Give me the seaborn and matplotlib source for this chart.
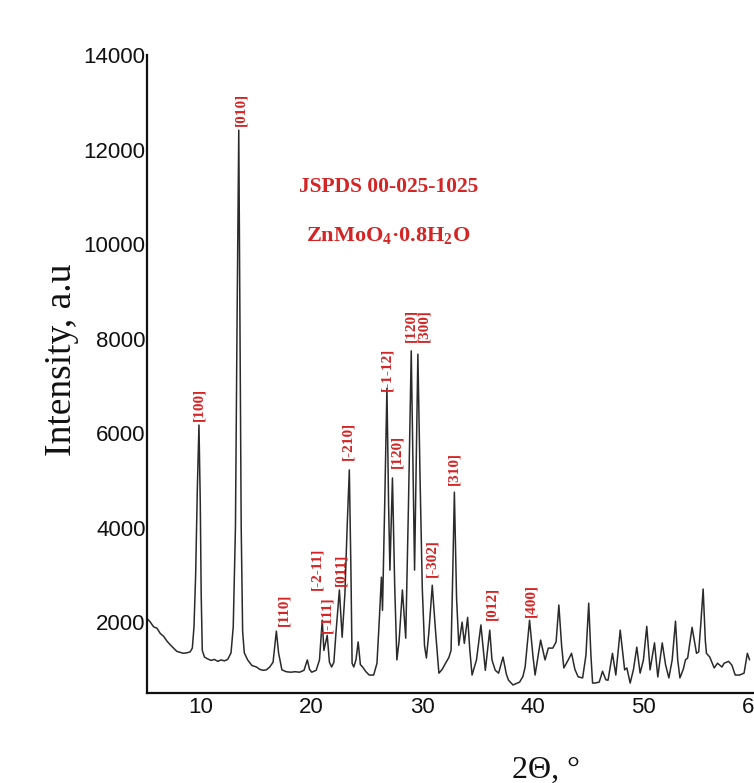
import matplotlib
matplotlib.use("Agg")
import matplotlib.pyplot as plt
import seaborn as sns
import pandas as pd

two_theta = [5.1, 5.4, 5.7, 6.0, 6.3, 6.6, 6.9, 7.2, 7.5, 7.8, 8.1, 8.4, 8.7, 9.0, 9.2, 9.35, 9.5, 9.65, 9.8, 9.92,
             10.0, 10.1, 10.3, 10.6, 10.9, 11.2, 11.5, 11.8, 12.1, 12.4, 12.7, 12.9, 13.1, 13.25, 13.4, 13.52, 13.62, 13.75, 13.9,
             14.2, 14.6, 15.0, 15.3, 15.6, 15.9, 16.2, 16.5, 16.8, 17.0, 17.3, 17.7, 18.1, 18.5, 18.9, 19.3, 19.6, 19.8,
             20.0, 20.4, 20.7, 20.95, 21.1, 21.4, 21.6, 21.8, 22.0, 22.2, 22.5, 22.75, 23.0, 23.2, 23.4, 23.55, 23.65, 23.8,
             24.0, 24.2, 24.4, 24.6, 24.9, 25.2, 25.6, 25.9, 26.1, 26.3, 26.4, 26.6, 26.8, 26.95, 27.07, 27.3, 27.5, 27.7,
             27.9, 28.2, 28.5, 28.75, 29.0, 29.3, 29.6, 29.8, 30.0, 30.2, 30.37, 30.6, 30.9, 31.2, 31.5, 31.8, 32.1, 32.4,
             32.6, 32.75, 32.9, 33.1, 33.3, 33.6, 33.8, 34.1, 34.3, 34.5, 34.9, 35.3, 35.7, 36.1, 36.3, 36.6, 36.9, 37.3,
             37.6, 37.8, 38.2, 38.5, 38.8, 39.1, 39.3, 39.7, 40.0, 40.2, 40.7, 41.1, 41.4, 41.8, 42.1, 42.35, 42.6, 42.8,
             43.2, 43.5, 43.8, 44.1, 44.5, 44.8, 45.05, 45.25, 45.4, 45.6, 46.0, 46.3, 46.6, 46.8, 47.2, 47.5, 47.9, 48.3,
             48.5, 48.8, 49.1, 49.4, 49.7, 50.0, 50.3, 50.6, 51.0, 51.3, 51.7, 52.0, 52.3, 52.6, 52.9, 53.1, 53.3, 53.6,
             53.8, 54.0, 54.4, 54.8, 55.0, 55.2, 55.4, 55.6, 55.7, 56.0, 56.4, 56.7, 57.1, 57.3, 57.7, 58.0, 58.3, 58.7,
             59.1, 59.4, 59.6]
intensity = [2080, 2000, 1900, 1870, 1760, 1700, 1600, 1520, 1450, 1380, 1360, 1340, 1350, 1370, 1450, 1900, 3000, 4800, 6170, 4500,
             2600, 1400, 1260, 1220, 1190, 1210, 1170, 1200, 1180, 1210, 1350, 1900, 4000, 8500, 12410, 8000, 4000, 1800, 1350,
             1200, 1080, 1050, 1000, 980, 990, 1050, 1150, 1810, 1350, 990, 950, 940, 950, 940, 980, 1200, 1000,
             940, 980, 1200, 2040, 1400, 1720, 1150, 1050, 1150, 1800, 2680, 1680, 2600, 4000, 5220, 3000, 1130, 1050,
             1200, 1580, 1100, 1050, 950, 880, 880, 1130, 2000, 2950, 2250, 4500, 6950, 4500, 3100, 5050, 2800, 1200,
             1600, 2680, 1660, 4500, 7740, 3100, 7670, 5000, 2700, 1500, 1240, 1800, 2780, 1800, 920, 1000, 1130, 1250,
             1400, 3000, 4750, 2500, 1510, 2000, 1550, 2100, 1400, 880, 1200, 1940, 980, 1830, 1200, 980, 920, 1260,
             900, 770, 670, 700, 730, 850, 1050, 2040, 1300, 880, 1620, 1200, 1450, 1450, 1580, 2360, 1500, 1030,
             1200, 1340, 1000, 840, 820, 1300, 2400, 1300, 710, 710, 730, 960, 780, 770, 1340, 880, 1830, 990,
             1030, 710, 1000, 1470, 920, 1200, 1910, 990, 1560, 840, 1560, 1100, 820, 1200, 2020, 1200, 820, 1000,
             1200, 1240, 1890, 1340, 1370, 2000, 2700, 1600, 1340, 1260, 1030, 1130, 1050, 1130, 1170, 1090, 880, 880,
             920, 1340, 1200]

peak_labels = ["[100]", "[010]", "[110]", "[-2-11]", "[-111]", "[011]", "[-210]", "[-1-12]", "[120]",
               "[120]", "[300]", "[-302]", "[310]", "[012]", "[400]"]
label_theta = [9.8, 13.58, 17.45, 20.5, 21.4, 22.6, 23.3, 26.8, 27.7, 28.95, 30.15, 30.9, 32.9, 36.3, 39.8]
label_base = [6250, 12500, 1915, 2680, 1770, 2760, 5430, 6900, 5270, 7925, 7925, 2950, 4900, 2040, 2100]

x_ticks = [10, 20, 30, 40, 50, 60]
y_ticks = [2000, 4000, 6000, 8000, 10000, 12000, 14000]

sns.set_theme(style="ticks")
plt.rcParams["font.family"] = ["Liberation Sans", "DejaVu Sans"]
plt.rcParams["mathtext.fontset"] = "custom"
plt.rcParams["mathtext.rm"] = "Liberation Serif:bold"
plt.rcParams["mathtext.default"] = "rm"

fig = plt.figure(figsize=(7.54, 7.83), dpi=100)
ax = fig.add_axes([147 / 754, 1 - 693 / 783, 1 - 147 / 754, (693 - 55) / 783])

df = pd.DataFrame({"two_theta": two_theta, "intensity": intensity})
sns.lineplot(data=df, x="two_theta", y="intensity", ax=ax, color="#2a2a2a", linewidth=1.1)

ax.set_xlim(5.1, 59.7)
ax.set_ylim(500, 14000)
ax.set_xticks(x_ticks)
ax.set_yticks(y_ticks)
ax.set_xticklabels([str(v) for v in x_ticks])
ax.set_yticklabels([str(v) for v in y_ticks])
ax.tick_params(axis="both", length=0, labelsize=16, colors="#111111")
ax.tick_params(axis="y", pad=1)
ax.tick_params(axis="x", pad=3)
ax.set_xlabel("")
ax.set_ylabel("")
sns.despine(ax=ax)
for s in ["left", "bottom"]:
    ax.spines[s].set_linewidth(1.6)
    ax.spines[s].set_color("#111111")
ax.set_facecolor("white")

red = "#d42424"
for lab, tx, base in zip(peak_labels, label_theta, label_base):
    ax.text(tx, base, lab, rotation=90, ha="center", va="bottom", color=red,
            fontsize=11, fontweight="bold", family="Liberation Serif")

fig.text(389 / 754, 1 - 187 / 783, "JSPDS 00-025-1025", ha="center", va="center",
         color=red, fontsize=15.5, fontweight="bold", family="Liberation Serif")
fig.text(388 / 754, 1 - 236 / 783, r"ZnMoO$_4$·0.8H$_2$O", ha="center", va="center",
         color=red, fontsize=16, fontweight="bold", family="Liberation Serif")

fig.text(62 / 754, 1 - 360 / 783, "Intensity, a.u", rotation=90, ha="center", va="center",
         fontsize=27, family="Liberation Serif", color="#111111")
fig.text(546 / 754, 1 - 756 / 783, "2Θ, °", ha="center", va="top",
         fontsize=23, family="Liberation Serif", color="#111111")

fig.savefig("out.png", dpi=100, facecolor="white")
